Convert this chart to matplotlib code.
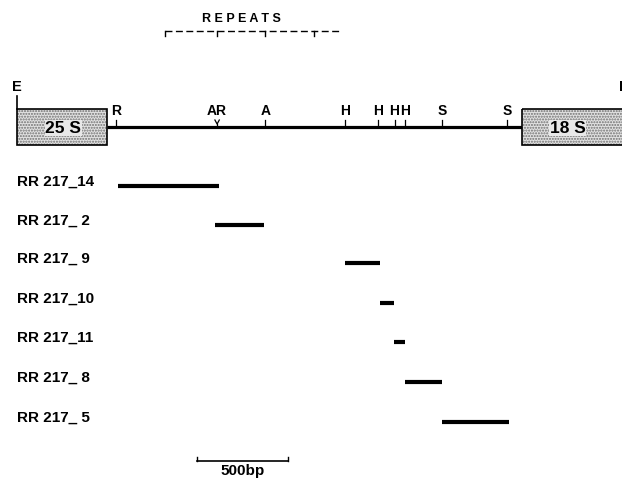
import matplotlib
matplotlib.use("Agg")
import matplotlib.pyplot as plt
from matplotlib.patches import Rectangle

# restriction map, positions in bp (0 = end of 25S)
site_labels = ["R", "AR", "A", "H", "H", "H", "H", "S", "S"]
site_pos = [50, 605, 870, 1310, 1490, 1580, 1640, 1840, 2200]

gene_25s = (-495, 0)
gene_18s = (2280, 2900)
spacer_end = 2280

repeat_ticks = [320, 605, 870, 1140]
repeat_end = 1280

clone_names = ["RR 217_14", "RR 217_ 2", "RR 217_ 9", "RR 217_10",
               "RR 217_11", "RR 217_ 8", "RR 217_ 5"]
clone_start = [60, 595, 1310, 1500, 1575, 1640, 1840]
clone_end = [615, 865, 1500, 1575, 1635, 1840, 2210]

scale_start = 495
scale_len = 500

font = ["Liberation Sans", "DejaVu Sans"]

fig = plt.figure(figsize=(6.22, 4.79), dpi=100)
ax = fig.add_axes([0, 0, 1, 1])
ax.set_xlim(-588, 2830)
ax.set_ylim(479, 0)
ax.axis("off")

line_y = 127
box_top, box_bot = 109, 145

# spacer line
ax.plot([gene_25s[1], spacer_end], [line_y, line_y], color="black", lw=2.3,
        solid_capstyle="butt")

# gene boxes (stippled)
for (x0, x1) in [gene_25s, gene_18s]:
    ax.add_patch(Rectangle((x0, box_top), x1 - x0, box_bot - box_top,
                           facecolor="#e2e2e2", edgecolor="#707070", lw=0,
                           hatch="......", zorder=2))
    ax.add_patch(Rectangle((x0, box_top), x1 - x0, box_bot - box_top,
                           facecolor="none", edgecolor="black", lw=1.2, zorder=3))
ax.text(-240, 128, "25 S", ha="center", va="center", fontsize=12.5,
        fontweight="bold", family=font, zorder=4,
        bbox=dict(facecolor="#e8e8e8", edgecolor="none", pad=0.5))
ax.text(2530, 128, "18 S", ha="center", va="center", fontsize=12.5,
        fontweight="bold", family=font, zorder=4,
        bbox=dict(facecolor="#e8e8e8", edgecolor="none", pad=0.5))

# E (EcoRI) ends
ax.plot([gene_25s[0], gene_25s[0]], [96, box_top], color="black", lw=1.2)
ax.text(gene_25s[0], 94, "E", ha="center", va="bottom", fontsize=10.5,
        fontweight="bold", family=font)
ax.text(2815, 94, "E", ha="left", va="bottom", fontsize=10.5,
        fontweight="bold", family=font)

# sites
for lab, x in zip(site_labels, site_pos):
    if lab == "AR":
        ax.plot([x - 12, x, x + 12], [120, 124, 120], color="black", lw=0.9)
        ax.plot([x, x], [124, line_y], color="black", lw=0.9)
    else:
        ax.plot([x, x], [120, line_y], color="black", lw=0.9)
    ax.text(x, 118, lab, ha="center", va="bottom", fontsize=10,
            fontweight="bold", family=font)

# repeats bracket
ry = 31
ax.plot([repeat_ticks[0], repeat_end], [ry, ry], color="black", lw=1.0,
        dashes=(5, 2.5))
for x in repeat_ticks:
    ax.plot([x, x], [ry, ry + 5], color="black", lw=1.0)
ax.text(sum(repeat_ticks[1:3]) / 2, 25, "R E P E A T S", ha="center",
        va="bottom", fontsize=9, fontweight="bold", family=font)

# clones
row_y = [186, 225, 263, 303, 342, 382, 422]
for name, x0, x1, y in zip(clone_names, clone_start, clone_end, row_y):
    ax.plot([x0, x1], [y, y], color="black", lw=3.0, solid_capstyle="butt")
    ax.text(-495, y - 4, name, ha="left", va="center", fontsize=11,
            fontweight="bold", family=font)

# scale bar
sy = 461
ax.plot([scale_start, scale_start + scale_len], [sy, sy], color="black", lw=1.2)
for x in (scale_start, scale_start + scale_len):
    ax.plot([x, x], [sy, sy - 4], color="black", lw=1.0)
ax.text(scale_start + scale_len / 2, sy + 3, "500bp", ha="center", va="top",
        fontsize=11, fontweight="bold", family=font)

fig.savefig("out.png", dpi=100)
